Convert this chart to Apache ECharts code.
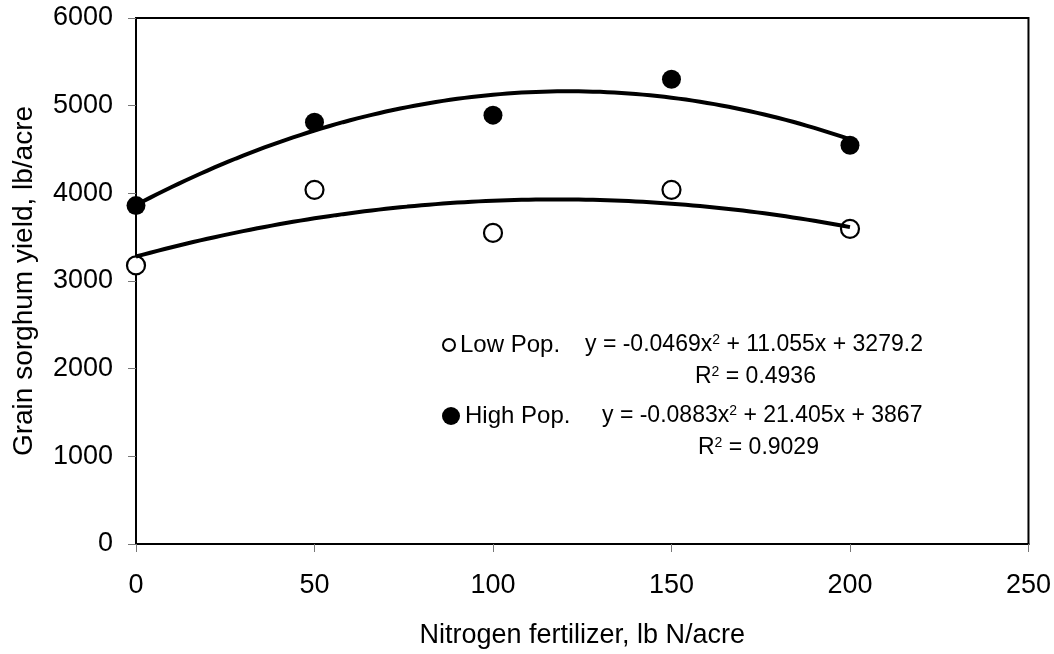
<!DOCTYPE html>
<html>
<head>
<meta charset="utf-8">
<title>Grain sorghum yield vs nitrogen</title>
<script src="https://cdn.jsdelivr.net/npm/echarts@6/dist/echarts.min.js"></script>
<style>
  html, body { margin: 0; padding: 0; background: #fff; }
  #chart { width: 1054px; height: 654px; }
</style>
</head>
<body>
<div id="chart"></div>
<script>
// Nitrogen rates (lb N/acre)
const nitrogen = [0, 50, 100, 150, 200];
// Grain yield (lb/acre) for the two plant populations
const lowPop = [3178, 4040, 3548, 4040, 3595];
const highPop = [3860, 4812, 4892, 5302, 4548];
// Quadratic trendline coefficients [a, b, c] for y = a*x^2 + b*x + c
const lowFit = [-0.0469, 11.055, 3279.2];
const highFit = [-0.0883, 21.405, 3867];
const lowR2 = '0.4936';
const highR2 = '0.9029';
const seriesNames = ['Low Pop.', 'High Pop.'];
const xTicks = { min: 0, max: 250, interval: 50 };
const yTicks = { min: 0, max: 6000, interval: 1000 };

const FONT = '"Liberation Sans", Arial, sans-serif';

// Sample the fitted curve across the measured nitrogen range
function curve(coef) {
  const pts = [];
  const x0 = nitrogen[0], x1 = nitrogen[nitrogen.length - 1];
  for (let x = x0; x <= x1; x += 2) {
    pts.push([x, coef[0] * x * x + coef[1] * x + coef[2]]);
  }
  return pts;
}

function eqText(coef) {
  return '{t|y = ' + coef[0] + 'x}{s|2}{t| + ' + coef[1] + 'x + ' + coef[2] + '}';
}
function r2Text(r) {
  return '{t|R}{s|2}{t| = ' + r + '}';
}
const rich = {
  t: { fontSize: 23, fontFamily: FONT, color: '#000', lineHeight: 24 },
  s: { fontSize: 14, fontFamily: FONT, color: '#000', lineHeight: 14, verticalAlign: 'top' }
};

const chart = echarts.init(document.getElementById('chart'), null, { renderer: 'canvas' });

const option = {
  backgroundColor: '#fff',
  animation: false,
  grid: {
    left: 136, right: 23, top: 18, bottom: 107,
    show: true, borderColor: '#000', borderWidth: 2, backgroundColor: 'transparent'
  },
  xAxis: {
    type: 'value',
    min: xTicks.min, max: xTicks.max, interval: xTicks.interval,
    name: 'Nitrogen fertilizer, lb N/acre',
    nameLocation: 'middle', nameGap: 78,
    nameTextStyle: { fontSize: 27, fontFamily: FONT, color: '#000' },
    axisLine: { lineStyle: { color: '#000', width: 2 } },
    axisTick: { show: true, inside: false, length: 8, lineStyle: { color: '#777', width: 1 } },
    axisLabel: { fontSize: 27, fontFamily: FONT, color: '#000', margin: 28, formatter: v => String(v) },
    splitLine: { show: false }
  },
  yAxis: {
    type: 'value',
    min: yTicks.min, max: yTicks.max, interval: yTicks.interval,
    name: 'Grain sorghum yield, lb/acre',
    nameLocation: 'middle', nameGap: 98,
    nameTextStyle: { fontSize: 28, fontFamily: FONT, color: '#000' },
    axisLine: { lineStyle: { color: '#000', width: 2 } },
    axisTick: { show: true, inside: false, length: 8, lineStyle: { color: '#777', width: 1 } },
    axisLabel: { fontSize: 27, fontFamily: FONT, color: '#000', margin: 23, formatter: v => String(v) },
    splitLine: { show: false }
  },
  legend: [
    {
      data: [{ name: seriesNames[0], itemStyle: { color: '#fff', borderColor: '#000', borderWidth: 2 } }],
      left: 442, top: 333, padding: 0,
      itemWidth: 12, itemHeight: 12,
      textStyle: { fontSize: 24, fontFamily: FONT, color: '#000', lineHeight: 24 },
      selectedMode: false
    },
    {
      data: [{ name: seriesNames[1], itemStyle: { color: '#000', borderColor: '#000', borderWidth: 0 } }],
      left: 442, top: 404, padding: 0,
      itemWidth: 18, itemHeight: 18,
      textStyle: { fontSize: 24, fontFamily: FONT, color: '#000', lineHeight: 24 },
      selectedMode: false
    }
  ],
  graphic: [
    { type: 'text', left: 585, top: 333, style: { text: eqText(lowFit), rich: rich } },
    { type: 'text', left: 695, top: 365, style: { text: r2Text(lowR2), rich: rich } },
    { type: 'text', left: 602, top: 404, style: { text: eqText(highFit), rich: rich } },
    { type: 'text', left: 698, top: 436, style: { text: r2Text(highR2), rich: rich } }
  ],
  series: [
    {
      name: seriesNames[0], type: 'scatter', z: 2,
      data: nitrogen.map((x, i) => [x, lowPop[i]]),
      symbol: 'circle', symbolSize: 18,
      itemStyle: { color: '#fff', borderColor: '#000', borderWidth: 2.2, opacity: 1 }
    },
    {
      name: seriesNames[1], type: 'scatter', z: 2,
      data: nitrogen.map((x, i) => [x, highPop[i]]),
      symbol: 'circle', symbolSize: 19,
      itemStyle: { color: '#000', borderWidth: 0, opacity: 1 }
    },
    {
      name: 'Low Pop. fit', type: 'line', z: 3,
      data: curve(lowFit), showSymbol: false, symbol: 'none',
      lineStyle: { color: '#000', width: 4 }, silent: true
    },
    {
      name: 'High Pop. fit', type: 'line', z: 3,
      data: curve(highFit), showSymbol: false, symbol: 'none',
      lineStyle: { color: '#000', width: 4 }, silent: true
    }
  ]
};

chart.setOption(option);
</script>
</body>
</html>
